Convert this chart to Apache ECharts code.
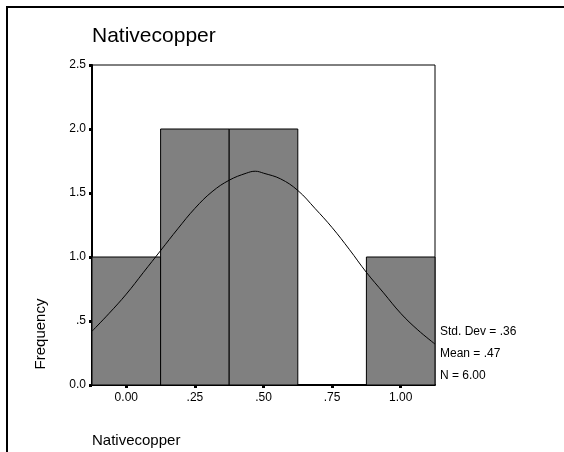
<!DOCTYPE html>
<html>
<head>
<meta charset="utf-8">
<script src="https://cdn.jsdelivr.net/npm/echarts@6/dist/echarts.min.js"></script>
<style>html,body{margin:0;padding:0;background:#fff;}#c{width:564px;height:452px;}</style>
</head>
<body>
<div id="c"></div>
<script>
// Histogram bins (lower edge, upper edge) and frequencies
var binStarts = [-0.125, 0.125, 0.375, 0.625, 0.875];
var binEnds   = [0.125, 0.375, 0.625, 0.875, 1.125];
var frequencies = [1, 2, 2, 0, 1];
// x tick labels
var xTickLabels = ['0.00', '.25', '.50', '.75', '1.00'];
// Normal curve (x, frequency)
var curveX = [-0.125, -0.0625, 0, 0.0625, 0.125, 0.1875, 0.25, 0.3125, 0.375, 0.4375, 0.47, 0.5, 0.5625, 0.625, 0.6875, 0.75, 0.8125, 0.875, 0.9375, 1.0, 1.0625, 1.125];
var curveY = [0.42, 0.56, 0.71, 0.88, 1.05, 1.22, 1.38, 1.51, 1.60, 1.655, 1.67, 1.655, 1.61, 1.52, 1.38, 1.23, 1.06, 0.88, 0.72, 0.56, 0.43, 0.32];
var statsLines = ['Std. Dev = .36', 'Mean = .47', 'N = 6.00'];
var titleText = 'Nativecopper';
var xName = 'Nativecopper';
var yName = 'Frequency';

var font = 'Arial, "Liberation Sans", sans-serif';
var chart = echarts.init(document.getElementById('c'), null, {renderer: 'canvas'});

var barData = binStarts.map(function (s, i) { return [s, binEnds[i], frequencies[i]]; });
var curveData = curveX.map(function (x, i) { return [x, curveY[i]]; });

var yFmt = function (v) {
  if (v === 0) return '0.0';
  if (v === 0.5) return '.5';
  return v.toFixed(1);
};

chart.setOption({
  animation: false,
  backgroundColor: '#fff',
  grid: {left: 92, top: 65, right: 129, bottom: 67, show: true, borderColor: '#000', borderWidth: 1, backgroundColor: 'transparent'},
  xAxis: [
    {type: 'value', min: -0.125, max: 1.125, show: false},
    {type: 'category', position: 'bottom', data: xTickLabels, boundaryGap: true,
     axisLine: {show: true, onZero: false, lineStyle: {color: '#000', width: 2}},
     axisTick: {show: true, alignWithLabel: true, length: 3, lineStyle: {color: '#000', width: 3}},
     axisLabel: {color: '#000', fontFamily: font, fontSize: 12, margin: 7},
     splitLine: {show: false}}
  ],
  yAxis: {type: 'value', min: 0, max: 2.5, interval: 0.5,
    axisLine: {show: true, onZero: false, lineStyle: {color: '#000', width: 2}},
    axisTick: {show: true, length: 3, lineStyle: {color: '#000', width: 3}},
    axisLabel: {color: '#000', fontFamily: font, fontSize: 12, margin: 6, formatter: yFmt},
    splitLine: {show: false}},
  series: [
    {type: 'custom', xAxisIndex: 0, yAxisIndex: 0, data: barData,
     renderItem: function (params, api) {
       var p0 = api.coord([api.value(0), api.value(2)]);
       var p1 = api.coord([api.value(1), 0]);
       if (api.value(2) <= 0) return null;
       return {type: 'rect', shape: {x: p0[0], y: p0[1], width: p1[0] - p0[0], height: p1[1] - p0[1]},
         style: {fill: '#808080', stroke: '#000', lineWidth: 1}};
     },
     encode: {x: [0, 1], y: 2}, z: 2},
    {type: 'line', xAxisIndex: 0, yAxisIndex: 0, data: curveData, smooth: 0.4, showSymbol: false,
     lineStyle: {color: '#000', width: 1}, z: 3}
  ],
  graphic: [
    {type: 'polyline', shape: {points: [[7, 452], [7, 7], [564, 7]]}, style: {stroke: '#000', lineWidth: 2, fill: null}},
    {type: 'text', left: 92, top: 26, style: {text: titleText, font: '21px ' + font, fill: '#000'}},
    {type: 'text', x: 41, y: 334, rotation: Math.PI / 2, style: {text: yName, font: '15px ' + font, fill: '#000', textAlign: 'center', textVerticalAlign: 'middle'}},
    {type: 'text', x: 92, y: 441, style: {text: xName, font: '15px ' + font, fill: '#000', textVerticalAlign: 'middle'}},
    {type: 'text', x: 440, y: 332, style: {text: statsLines[0], font: '12px ' + font, fill: '#000', textVerticalAlign: 'middle'}},
    {type: 'text', x: 440, y: 354, style: {text: statsLines[1], font: '12px ' + font, fill: '#000', textVerticalAlign: 'middle'}},
    {type: 'text', x: 440, y: 376, style: {text: statsLines[2], font: '12px ' + font, fill: '#000', textVerticalAlign: 'middle'}}
  ]
});
</script>
</body>
</html>
